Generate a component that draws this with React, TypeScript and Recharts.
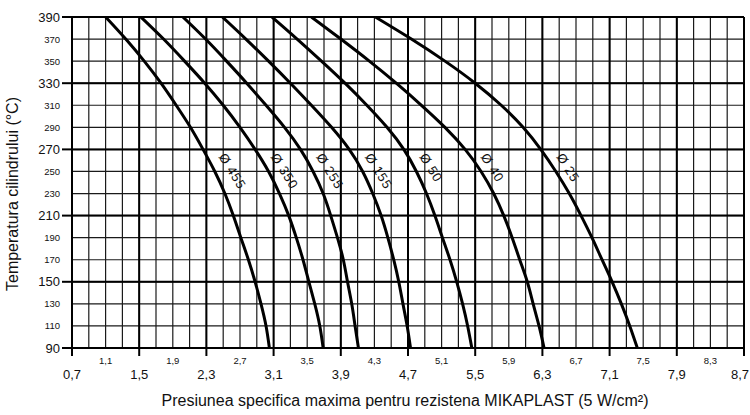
import { LineChart, Line, XAxis, YAxis, CartesianGrid, ReferenceLine } from 'recharts';

// temperature steps (°C), top to bottom
const temps = [390, 370, 350, 330, 310, 290, 270, 250, 230, 210, 190, 170, 150, 130, 110, 90];

// pressure at the temps above
const d455 = [1.10, 1.34, 1.56, 1.76, 1.94, 2.11, 2.26, 2.40, 2.52, 2.62, 2.71, 2.80, 2.88, 2.95, 3.01, 3.05];
const d350 = [1.52, 1.79, 2.04, 2.28, 2.50, 2.70, 2.88, 3.04, 3.17, 3.28, 3.37, 3.45, 3.52, 3.59, 3.65, 3.69];
const d255 = [2.02, 2.29, 2.54, 2.78, 3.01, 3.23, 3.42, 3.57, 3.69, 3.78, 3.86, 3.93, 3.98, 4.03, 4.07, 4.11];
const d155 = [2.49, 2.77, 3.04, 3.30, 3.55, 3.79, 4.00, 4.16, 4.28, 4.38, 4.46, 4.53, 4.59, 4.64, 4.69, 4.73];
const d50 = [3.08, 3.38, 3.67, 3.95, 4.21, 4.45, 4.65, 4.80, 4.92, 5.02, 5.11, 5.20, 5.28, 5.35, 5.41, 5.46];
const d40 = [3.55, 3.90, 4.24, 4.56, 4.86, 5.14, 5.38, 5.57, 5.72, 5.84, 5.94, 6.03, 6.12, 6.19, 6.26, 6.32];
const d25 = [4.31, 4.74, 5.14, 5.50, 5.81, 6.07, 6.28, 6.46, 6.62, 6.76, 6.89, 7.01, 7.13, 7.24, 7.34, 7.43];

const curves = [
  { name: 'Ø 455', values: d455 },
  { name: 'Ø 350', values: d350 },
  { name: 'Ø 255', values: d255 },
  { name: 'Ø 155', values: d155 },
  { name: 'Ø 50', values: d50 },
  { name: 'Ø 40', values: d40 },
  { name: 'Ø 25', values: d25 },
];

const gridX = [
  0.7, 0.9, 1.1, 1.3, 1.5, 1.7, 1.9, 2.1, 2.3, 2.5, 2.7, 2.9, 3.1, 3.3, 3.5, 3.7, 3.9, 4.1, 4.3, 4.5, 4.7,
  4.9, 5.1, 5.3, 5.5, 5.7, 5.9, 6.1, 6.3, 6.5, 6.7, 6.9, 7.1, 7.3, 7.5, 7.7, 7.9, 8.1, 8.3, 8.5, 8.7,
];
const majorX = [0.7, 1.5, 2.3, 3.1, 3.9, 4.7, 5.5, 6.3, 7.1, 7.9, 8.7];
const minorLabelX = [1.1, 1.9, 2.7, 3.5, 4.3, 5.1, 5.9, 6.7, 7.5, 8.3];

const gridY = [90, 110, 130, 150, 170, 190, 210, 230, 250, 270, 290, 310, 330, 350, 370, 390];
const majorY = [90, 150, 210, 270, 330, 390];

const FONT = '"Liberation Sans", Arial, sans-serif';

const has = (arr: number[], v: number) => arr.some((a) => Math.abs(a - v) < 1e-6);
const fmt = (v: number) => v.toFixed(1).replace('.', ',');

function XTick(props: any) {
  const { x, y, payload } = props;
  const v = payload.value;
  const major = has(majorX, v);
  const minor = has(minorLabelX, v);
  if (!major && !minor) return <g />;
  const last = Math.abs(v - 8.7) < 1e-6;
  return (
    <g>
      {major && <line x1={x} x2={x} y1={y} y2={y + 8} stroke="#000" strokeWidth={2} />}
      <text
        x={last ? x + 5 : x}
        y={major ? y + 26 : y + 12}
        textAnchor={last ? 'end' : 'middle'}
        dominantBaseline="central"
        fontSize={major ? 13 : 9.5}
        fontFamily={FONT}
        fill="#111"
      >
        {fmt(v)}
      </text>
    </g>
  );
}

function YTick(props: any) {
  const { x, y, payload } = props;
  const v = payload.value;
  const major = majorY.includes(v);
  return (
    <g>
      {major && <line x1={x - 10} x2={x} y1={y} y2={y} stroke="#000" strokeWidth={2} />}
      <text
        x={x - 12}
        y={y}
        textAnchor="end"
        dominantBaseline="central"
        fontSize={major ? 13 : 9.5}
        fontFamily={FONT}
        fill="#111"
      >
        {v}
      </text>
    </g>
  );
}

// rotated "Ø xx" tag, sits just right of the curve below the 270 line
const curveLabel = (name: string) => (props: any) => {
  if (props.value !== 270) return null;
  const px = props.x ?? props.viewBox?.x;
  const py = props.y ?? props.viewBox?.y;
  const lx = px + 19;
  const ly = py + 5;
  return (
    <text
      x={lx}
      y={ly}
      transform={`rotate(58 ${lx} ${ly})`}
      dominantBaseline="central"
      fontSize={13}
      letterSpacing={0.8}
      fontFamily={FONT}
      fill="#111"
    >
      {name}
    </text>
  );
};

export default function App() {
  return (
    <div style={{ position: 'absolute', left: 0, top: 0, width: 750, height: 415, background: '#fff' }}>
      <LineChart width={750} height={415} margin={{ top: 17, right: 6, bottom: 0, left: 0 }}>
        <CartesianGrid stroke="#1a1a1a" strokeWidth={1.2} />
        <XAxis
          type="number"
          dataKey="p"
          domain={[0.7, 8.7]}
          ticks={gridX}
          interval={0}
          height={67}
          tickSize={0}
          tickMargin={0}
          axisLine={false}
          tickLine={false}
          tick={<XTick />}
          allowDataOverflow
        />
        <YAxis
          type="number"
          domain={[90, 390]}
          ticks={gridY}
          interval={0}
          width={72}
          tickSize={0}
          tickMargin={0}
          axisLine={false}
          tickLine={false}
          tick={<YTick />}
          allowDataOverflow
        />
        {majorX.map((v) => (
          <ReferenceLine key={'mx' + v} x={v} stroke="#000" strokeWidth={2} />
        ))}
        {majorY.map((v) => (
          <ReferenceLine key={'my' + v} y={v} stroke="#000" strokeWidth={2} />
        ))}
        {curves.map((c) => (
          <Line
            key={c.name}
            data={temps.map((t, i) => ({ p: c.values[i], t }))}
            dataKey="t"
            type="natural"
            stroke="#000"
            strokeWidth={3}
            dot={false}
            isAnimationActive={false}
            label={curveLabel(c.name)}
          />
        ))}
      </LineChart>
      <div
        style={{
          position: 'absolute',
          left: 0,
          width: 810,
          top: 392,
          textAlign: 'center',
          fontFamily: FONT,
          fontSize: 16,
          color: '#111',
        }}
      >
        Presiunea specifica maxima pentru rezistena MIKAPLAST (5 W/cm²)
      </div>
      <div
        style={{
          position: 'absolute',
          left: 13,
          top: 194,
          transform: 'translate(-50%, -50%) rotate(-90deg)',
          whiteSpace: 'nowrap',
          fontFamily: FONT,
          fontSize: 16,
          color: '#111',
        }}
      >
        Temperatura cilindrului (°C)
      </div>
    </div>
  );
}
